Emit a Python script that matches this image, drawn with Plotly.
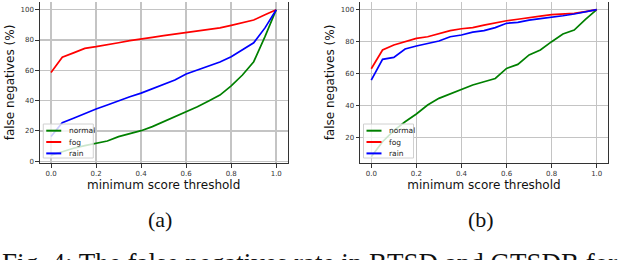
import plotly.graph_objects as go

# ---------------- data ----------------
thresholds = [0.0, 0.05, 0.1, 0.15, 0.2, 0.25, 0.3, 0.35, 0.4, 0.45, 0.5,
              0.55, 0.6, 0.65, 0.7, 0.75, 0.8, 0.85, 0.9, 0.95, 1.0]

a_normal = [4.0, 6.4, 8.6, 10.3, 11.9, 13.4, 16.3, 18.0, 20.2, 22.9, 26.2,
            29.0, 32.7, 36.0, 39.8, 43.7, 49.7, 56.9, 65.7, 82.2, 100.0]
a_fog = [58.5, 68.6, 71.5, 74.5, 75.6, 76.7, 78.2, 79.6, 80.9, 81.8, 82.9,
         84.0, 85.0, 86.0, 87.3, 88.0, 89.7, 91.6, 93.2, 96.7, 100.0]
a_rain = [16.3, 25.5, 28.4, 31.6, 34.5, 37.1, 40.0, 42.6, 45.0, 47.7, 50.8,
          53.6, 57.6, 60.2, 62.9, 65.5, 69.0, 73.4, 78.2, 88.0, 100.0]

b_normal = [8.1, 17.5, 24.4, 30.0, 34.8, 40.4, 44.6, 47.3, 49.8, 52.9, 55.0,
            57.0, 63.3, 65.8, 71.7, 74.8, 80.0, 84.8, 87.3, 94.0, 100.0]
b_fog = [63.1, 74.8, 77.9, 80.2, 82.1, 83.1, 85.2, 86.9, 88.1, 88.8, 90.4,
         91.9, 93.1, 94.0, 95.2, 96.0, 96.9, 97.5, 97.7, 98.8, 100.0]
b_rain = [56.0, 69.0, 70.2, 75.4, 77.3, 79.0, 80.4, 83.1, 84.2, 86.0, 86.9,
          88.8, 91.5, 92.1, 93.5, 94.4, 95.2, 96.2, 97.3, 98.8, 100.0]

series_names = ["normal", "fog", "rain"]
series_colors = ["#008000", "#ff0000", "#0000ff"]

x_tick_vals = [0.0, 0.2, 0.4, 0.6, 0.8, 1.0]
x_tick_text = ["0.0", "0.2", "0.4", "0.6", "0.8", "1.0"]
y_tick_vals = [0, 20, 40, 60, 80, 100]
y_tick_text = ["0", "20", "40", "60", "80", "100"]

x_title = "minimum score threshold"
y_title = "false negatives (%)"
panel_labels = ["(a)", "(b)"]
caption = "Fig. 4: The false negatives rate in BTSD and GTSDB for"

# ---------------- layout helpers ----------------
W, H = 640, 260


def px(x):
    return x / W


def py(y):
    return 1 - y / H


panel_left = [39.75, 360.0]
panel_right = [287.5, 608.0]
plot_top, plot_bottom = 2.0, 163.0
y_ranges = [[-1.12, 105.08], [4.2, 104.8]]

fig = go.Figure()

panels = [(a_normal, a_fog, a_rain), (b_normal, b_fog, b_rain)]
for i, data in enumerate(panels):
    xa = "x" if i == 0 else "x2"
    ya = "y" if i == 0 else "y2"
    for name, color, vals in zip(series_names, series_colors, data):
        fig.add_trace(go.Scatter(
            x=thresholds, y=vals, mode="lines", name=name,
            line=dict(color=color, width=1.7),
            xaxis=xa, yaxis=ya, showlegend=False, hoverinfo="skip"))

axis_common = dict(
    showgrid=True, gridcolor="#c4c4c4", gridwidth=1.5,
    showline=True, linecolor="#333333", linewidth=1,
    ticks="outside", ticklen=3.5, tickwidth=1, tickcolor="#333333",
    tickfont=dict(family="DejaVu Sans", size=7, color="#333333"),
    zeroline=False, automargin=False,
)

for i in range(2):
    sfx = "" if i == 0 else "2"
    fig.update_layout(**{
        "xaxis" + sfx: dict(
            axis_common,
            domain=[px(panel_left[i]), px(panel_right[i])],
            range=[-0.05, 1.05],
            tickvals=x_tick_vals, ticktext=x_tick_text,
            anchor="y" + sfx, mirror=False,
            title=dict(text=x_title, standoff=2,
                       font=dict(family="DejaVu Sans", size=12, color="#111111")),
        ),
        "yaxis" + sfx: dict(
            axis_common,
            domain=[py(plot_bottom), py(plot_top)],
            range=y_ranges[i],
            tickvals=y_tick_vals, ticktext=y_tick_text,
            anchor="x" + sfx, mirror=True,
            title=dict(text=y_title, standoff=3,
                       font=dict(family="DejaVu Sans", size=12, color="#111111")),
        ),
    })

shapes = []
annotations = []
legend_rows = [130.7, 142.0, 153.4]
for i in range(2):
    L = panel_left[i]
    shapes.append(dict(type="rect", xref="paper", yref="paper",
                       x0=px(L + 3.5), x1=px(L + 53.5),
                       y0=py(158), y1=py(124),
                       fillcolor="rgba(255,255,255,0.8)",
                       line=dict(color="#d0d0d0", width=1), layer="above"))
    for name, color, ry in zip(series_names, series_colors, legend_rows):
        shapes.append(dict(type="line", xref="paper", yref="paper",
                           x0=px(L + 6.5), x1=px(L + 21.5),
                           y0=py(ry), y1=py(ry),
                           line=dict(color=color, width=2), layer="above"))
        annotations.append(dict(text=name, xref="paper", yref="paper",
                                x=px(L + 27), y=py(ry), xanchor="left",
                                yanchor="middle", showarrow=False,
                                font=dict(family="DejaVu Sans", size=7.5,
                                          color="#222222")))

for lbl, cx in zip(panel_labels, [160, 481]):
    annotations.append(dict(text=lbl, xref="paper", yref="paper",
                            x=px(cx), y=py(219), xanchor="center",
                            yanchor="middle", showarrow=False,
                            font=dict(family="Liberation Serif", size=22,
                                      color="#111111")))

annotations.append(dict(text=caption, xref="paper", yref="paper",
                        x=px(0), y=py(246), xanchor="left", yanchor="top",
                        showarrow=False,
                        font=dict(family="Liberation Serif", size=27,
                                  color="#111111")))

fig.update_layout(
    template="none",
    width=W, height=H, autosize=False,
    margin=dict(l=0, r=0, t=0, b=0),
    paper_bgcolor="white", plot_bgcolor="white",
    font=dict(family="DejaVu Sans"),
    shapes=shapes, annotations=annotations,
    showlegend=False,
)

fig.write_html("out.html",
               config={"displayModeBar": False, "staticPlot": True},
               post_script="document.body.style.margin='0';"
                           "document.body.style.padding='0';"
                           "document.body.style.overflow='hidden';")
